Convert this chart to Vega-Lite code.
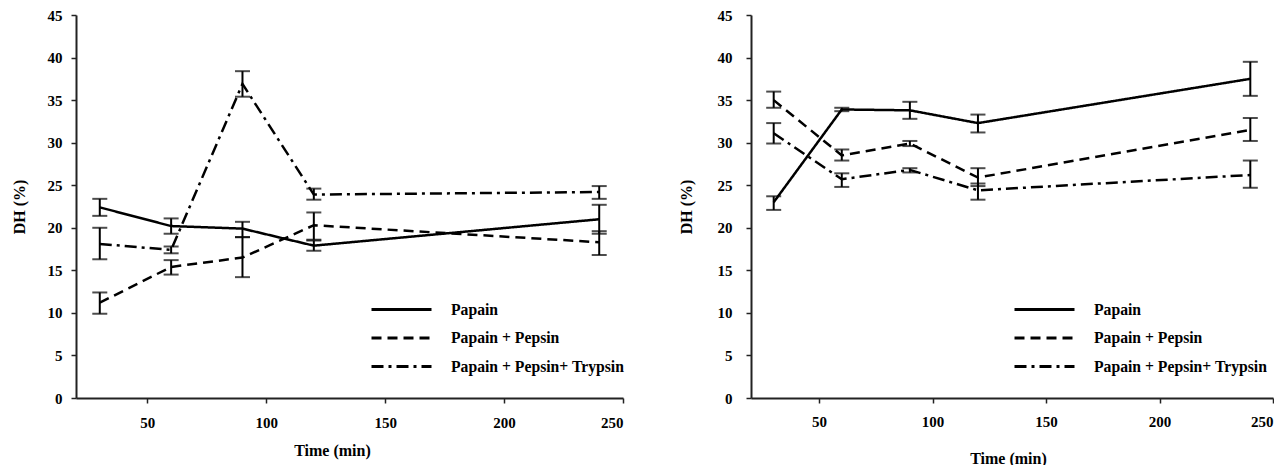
{
  "$schema": "https://vega.github.io/schema/vega-lite/v6.json",
  "background": "white",
  "padding": {"left": 11, "top": 8, "right": 0, "bottom": 0},
  "spacing": 53,
  "config": {
    "font": "Liberation Serif",
    "view": {"stroke": null},
    "axis": {
      "grid": false,
      "domainColor": "#222222",
      "domainWidth": 2,
      "tickColor": "#222222",
      "tickWidth": 1.5,
      "tickSize": 5,
      "labelFont": "Liberation Serif",
      "labelFontWeight": "bold",
      "labelFontSize": 15,
      "labelColor": "black",
      "titleFont": "Liberation Serif",
      "titleFontWeight": "bold",
      "titleFontSize": 16,
      "titleColor": "black"
    },
    "legend": {
      "labelFont": "Liberation Serif",
      "labelFontWeight": "bold",
      "labelFontSize": 15.7,
      "labelColor": "black",
      "labelLimit": 400
    }
  },
  "datasets": {
    "left": [
      {"series": "Papain", "time": 30, "dh": 22.4, "lo": 21.4, "hi": 23.4},
      {"series": "Papain", "time": 60, "dh": 20.2, "lo": 19.3, "hi": 21.1},
      {"series": "Papain", "time": 90, "dh": 19.9, "lo": 18.9, "hi": 20.7},
      {"series": "Papain", "time": 120, "dh": 17.9, "lo": 17.3, "hi": 18.5},
      {"series": "Papain", "time": 240, "dh": 21.0, "lo": 19.3, "hi": 22.7},
      {"series": "Papain + Pepsin", "time": 30, "dh": 11.2, "lo": 9.9, "hi": 12.4},
      {"series": "Papain + Pepsin", "time": 60, "dh": 15.4, "lo": 14.5, "hi": 16.2},
      {"series": "Papain + Pepsin", "time": 90, "dh": 16.5, "lo": 14.2, "hi": 18.9},
      {"series": "Papain + Pepsin", "time": 120, "dh": 20.3, "lo": 18.6, "hi": 21.8},
      {"series": "Papain + Pepsin", "time": 240, "dh": 18.3, "lo": 16.8, "hi": 19.6},
      {"series": "Papain + Pepsin+ Trypsin", "time": 30, "dh": 18.1, "lo": 16.3, "hi": 20.0},
      {"series": "Papain + Pepsin+ Trypsin", "time": 60, "dh": 17.4, "lo": 17.0, "hi": 17.8},
      {"series": "Papain + Pepsin+ Trypsin", "time": 90, "dh": 36.9, "lo": 35.4, "hi": 38.4},
      {"series": "Papain + Pepsin+ Trypsin", "time": 120, "dh": 23.9, "lo": 23.3, "hi": 24.6},
      {"series": "Papain + Pepsin+ Trypsin", "time": 240, "dh": 24.2, "lo": 23.4, "hi": 24.9}
    ],
    "right": [
      {"series": "Papain", "time": 30, "dh": 23.0, "lo": 22.1, "hi": 23.7},
      {"series": "Papain", "time": 60, "dh": 33.9, "lo": 33.7, "hi": 34.1},
      {"series": "Papain", "time": 90, "dh": 33.8, "lo": 32.8, "hi": 34.8},
      {"series": "Papain", "time": 120, "dh": 32.3, "lo": 31.2, "hi": 33.3},
      {"series": "Papain", "time": 240, "dh": 37.5, "lo": 35.5, "hi": 39.5},
      {"series": "Papain + Pepsin", "time": 30, "dh": 35.0, "lo": 34.1, "hi": 36.0},
      {"series": "Papain + Pepsin", "time": 60, "dh": 28.5, "lo": 27.9, "hi": 29.2},
      {"series": "Papain + Pepsin", "time": 90, "dh": 29.9, "lo": 29.6, "hi": 30.2},
      {"series": "Papain + Pepsin", "time": 120, "dh": 25.9, "lo": 24.9, "hi": 27.0},
      {"series": "Papain + Pepsin", "time": 240, "dh": 31.5, "lo": 30.2, "hi": 32.9},
      {"series": "Papain + Pepsin+ Trypsin", "time": 30, "dh": 31.1, "lo": 29.9, "hi": 32.3},
      {"series": "Papain + Pepsin+ Trypsin", "time": 60, "dh": 25.7, "lo": 24.8, "hi": 26.4},
      {"series": "Papain + Pepsin+ Trypsin", "time": 90, "dh": 26.8, "lo": 26.5, "hi": 27.0},
      {"series": "Papain + Pepsin+ Trypsin", "time": 120, "dh": 24.4, "lo": 23.3, "hi": 25.2},
      {"series": "Papain + Pepsin+ Trypsin", "time": 240, "dh": 26.2, "lo": 24.7, "hi": 27.9}
    ]
  },
  "hconcat": [
    {
      "width": 547,
      "height": 383,
      "data": {"name": "left"},
      "layer": [
        {
          "mark": {"type": "line", "color": "black", "strokeWidth": 2.5},
          "encoding": {
            "x": {"field": "time", "type": "quantitative", "scale": {"domain": [20, 250], "nice": false}, "axis": {"title": "Time (min)", "values": [50, 100, 150, 200, 250], "labelPadding": 12, "titlePadding": 12, "titleX": 256}},
            "y": {"field": "dh", "type": "quantitative", "scale": {"domain": [0, 45], "nice": false}, "axis": {"title": "DH (%)", "values": [0, 5, 10, 15, 20, 25, 30, 35, 40, 45], "labelPadding": 9, "titlePadding": 20}},
            "strokeDash": {
              "field": "series", "type": "nominal",
              "scale": {"domain": ["Papain", "Papain + Pepsin", "Papain + Pepsin+ Trypsin"], "range": [[1, 0], [10, 6], [12, 5, 3, 5]]},
              "legend": {"title": null, "orient": "none", "legendX": 314, "legendY": 283, "symbolType": "M-3,0H3", "symbolSize": 400, "symbolStrokeWidth": 3, "symbolStrokeColor": "black", "symbolFillColor": "transparent", "labelOffset": 38, "rowPadding": 8.5}
            }
          }
        },
        {
          "mark": {"type": "errorbar", "color": "black", "thickness": 2, "ticks": {"size": 15, "thickness": 2, "color": "black"}},
          "encoding": {
            "x": {"field": "time", "type": "quantitative", "title": "Time (min)"},
            "y": {"field": "lo", "type": "quantitative", "title": "DH (%)"},
            "y2": {"field": "hi"}
          }
        }
      ]
    },
    {
      "width": 522,
      "height": 383,
      "data": {"name": "right"},
      "layer": [
        {
          "mark": {"type": "line", "color": "black", "strokeWidth": 2.5},
          "encoding": {
            "x": {"field": "time", "type": "quantitative", "scale": {"domain": [20, 250], "nice": false}, "axis": {"title": "Time (min)", "values": [50, 100, 150, 200, 250], "labelPadding": 11, "titlePadding": 21, "titleX": 257}},
            "y": {"field": "dh", "type": "quantitative", "scale": {"domain": [0, 45], "nice": false}, "axis": {"title": "DH (%)", "values": [0, 5, 10, 15, 20, 25, 30, 35, 40, 45], "labelPadding": 14, "titlePadding": 23}},
            "strokeDash": {
              "field": "series", "type": "nominal",
              "scale": {"domain": ["Papain", "Papain + Pepsin", "Papain + Pepsin+ Trypsin"], "range": [[1, 0], [10, 6], [12, 5, 3, 5]]},
              "legend": {"title": null, "orient": "none", "legendX": 282, "legendY": 283, "symbolType": "M-3,0H3", "symbolSize": 400, "symbolStrokeWidth": 3, "symbolStrokeColor": "black", "symbolFillColor": "transparent", "labelOffset": 38, "rowPadding": 8.5}
            }
          }
        },
        {
          "mark": {"type": "errorbar", "color": "black", "thickness": 2, "ticks": {"size": 15, "thickness": 2, "color": "black"}},
          "encoding": {
            "x": {"field": "time", "type": "quantitative", "title": "Time (min)"},
            "y": {"field": "lo", "type": "quantitative", "title": "DH (%)"},
            "y2": {"field": "hi"}
          }
        }
      ]
    }
  ],
  "resolve": {"legend": {"strokeDash": "independent"}, "scale": {"strokeDash": "independent"}}
}
